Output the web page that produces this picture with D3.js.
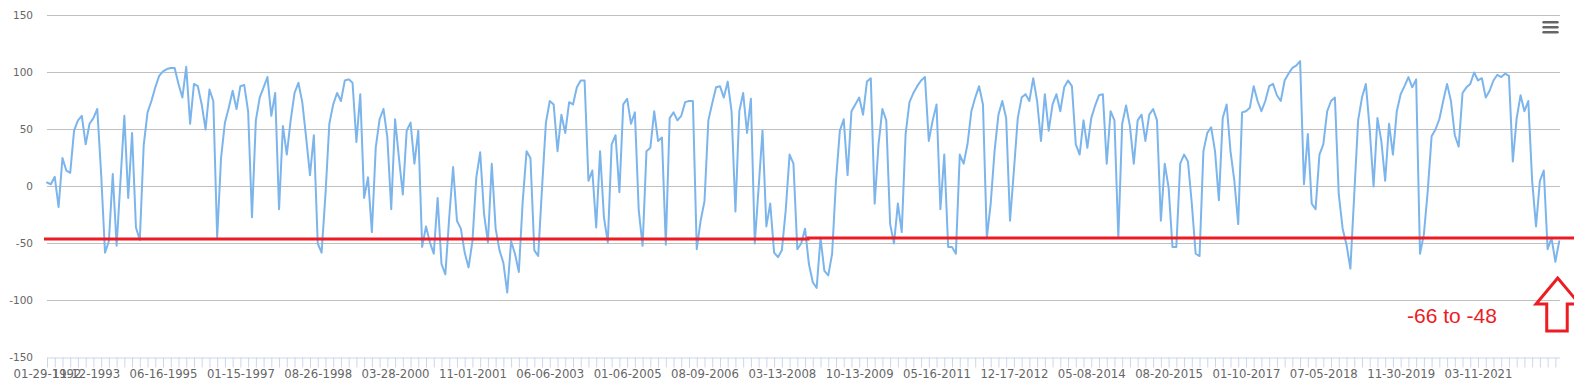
<!DOCTYPE html>
<html>
<head>
<meta charset="utf-8">
<script src="https://cdn.jsdelivr.net/npm/d3@7"></script>
<style>
  html, body { margin: 0; padding: 0; background: #fff; }
  svg { display: block; }
</style>
</head>
<body>
<svg id="chart" width="1574" height="380"></svg>
<script>
// ---- data ----
const values = [
  3.5, 2, 8.5, -18, 25, 14, 12, 49, 58, 62,
  37, 55, 60, 68, 11, -58, -48, 11, -52, 5,
  62, -10, 47, -36, -47, 36, 65, 75, 87, 97,
  101, 103, 104, 104, 90, 78, 105, 55, 90, 88,
  72, 50, 85, 75, -45, 25, 56, 69, 84, 68,
  88, 89, 66, -27, 58, 78, 87, 96, 62, 82,
  -20, 53, 28, 58, 82, 91, 74, 43, 10, 45,
  -50, -58, -7, 55, 72, 82, 75, 93, 94, 91,
  39, 81, -10, 8, -40, 34, 59, 68, 43, -20,
  59, 25, -7, 49, 56, 20, 49, -53, -35, -49,
  -59, -10, -68, -77, -27, 17, -30, -37, -58, -71,
  -48, 8, 30, -24, -49, 20, -37, -56, -67, -93,
  -48, -59, -75, -13, 31, 25, -56, -61, -1, 56,
  75, 72, 31, 63, 47, 74, 72, 87, 93, 93,
  5, 14, -36, 31, -27, -49, 37, 45, -5, 72,
  77, 55, 65, -21, -52, 31, 34, 66, 40, 43,
  -51, 60, 65, 58, 62, 74, 75, 75, -55, -30,
  -13, 58, 73, 87, 88, 78, 92, 66, -22, 66,
  82, 47, 77, -50, -1, 49, -35, -15, -58, -62,
  -56, -21, 28, 20, -55, -50, -37, -68, -84, -89,
  -45, -74, -78, -59, 5, 49, 59, 10, 66, 72,
  78, 63, 92, 95, -15, 37, 68, 58, -33, -50,
  -15, -40, 46, 74, 82, 88, 93, 96, 40, 58,
  72, -20, 28, -53, -53, -59, 28, 20, 37, 66,
  78, 88, 72, -45, -15, 31, 63, 75, 60, -30,
  14, 60, 78, 81, 75, 95, 75, 40, 81, 49,
  72, 81, 66, 87, 93, 88, 37, 28, 58, 34,
  60, 71, 80, 81, 20, 66, 58, -45, 55, 71,
  53, 20, 58, 63, 40, 63, 68, 58, -30, 20,
  -1, -53, -53, 20, 28, 22, -15, -59, -61, 31,
  47, 52, 31, -12, 60, 72, 31, 5, -33, 65,
  66, 69, 88, 75, 66, 75, 88, 90, 80, 75,
  93, 99, 104, 106, 110, 2, 46, -15, -20, 28,
  37, 66, 75, 78, -7, -37, -51, -72, -7, 58,
  78, 90, 50, 0, 60, 40, 5, 55, 28, 66,
  81, 88, 96, 87, 94, -59, -42, -4, 44, 50,
  59, 75, 90, 75, 45, 35, 82, 87, 90, 100,
  93, 95, 78, 84, 93, 98, 96, 99, 97, 22,
  60, 80, 66, 75, 5, -35, 5, 14, -55, -45,
  -66, -48
];
const tickLabels = [
  "01-29-1992", "11-12-1993", "06-16-1995", "01-15-1997", "08-26-1998",
  "03-28-2000", "11-01-2001", "06-06-2003", "01-06-2005", "08-09-2006",
  "03-13-2008", "10-13-2009", "05-16-2011", "12-17-2012", "05-08-2014",
  "08-20-2015", "01-10-2017", "07-05-2018", "11-30-2019", "03-11-2021"
];
const tickLabelIndex = [0, 10, 30, 50, 70, 90, 110, 130, 150, 170,
  190, 210, 230, 250, 270, 290, 310, 330, 350, 370];
const yTicks = [150, 100, 50, 0, -50, -100, -150];
const redLevels = [-46, -45.2];   // reference line (left part, right part)
const redBreakIndex = 196.8;
const noteText = "-66 to -48";

// ---- layout ----
const svg = d3.select("#chart");
const plotLeft = 47, plotRight = 1560, plotTop = 15.5, plotBottom = 357.5;
const step = 3.8676;
const x = d3.scaleLinear().domain([0, values.length - 1])
  .range([plotLeft, plotLeft + (values.length - 1) * step]);
const y = d3.scaleLinear().domain([-150, 150]).range([plotBottom, plotTop]);

// grid lines
svg.append("g").selectAll("line")
  .data(yTicks.filter(v => v !== -150))
  .join("line")
  .attr("x1", plotLeft).attr("x2", plotRight)
  .attr("y1", d => y(d)).attr("y2", d => y(d))
  .attr("stroke", "#c0c0c0").attr("stroke-width", 1);

// y axis labels
const yAxis = d3.axisLeft(y).tickValues(yTicks).tickSize(0).tickPadding(0)
  .tickFormat(d => String(d));
const gy = svg.append("g").attr("transform", "translate(33,0)").call(yAxis);
gy.select(".domain").remove();
gy.selectAll("text").attr("font-family", "DejaVu Sans, Verdana, sans-serif")
  .attr("font-size", "10.5px").attr("fill", "#666666");

// x axis
const labelMap = new Map(tickLabelIndex.map((k, i) => [k, tickLabels[i]]));
const tickPositions = d3.range(0, values.length, 2);
const xAxis = d3.axisBottom(x).tickValues(tickPositions).tickSize(10).tickPadding(2)
  .tickFormat(d => labelMap.get(d) || "");
const gx = svg.append("g").attr("transform", `translate(0,${plotBottom})`).call(xAxis);
gx.select(".domain").attr("d", `M${plotLeft},0.5H${plotRight}`).attr("stroke", "#ccd6eb");
gx.selectAll(".tick line").attr("stroke", "#ccd6eb");
gx.selectAll("text").attr("font-family", "DejaVu Sans, Verdana, sans-serif")
  .attr("font-size", "11.7px").attr("fill", "#666666");

// series line
const line = d3.line().x((d, i) => x(i)).y(d => y(d)).curve(d3.curveLinear);
svg.append("path").datum(values)
  .attr("d", line)
  .attr("fill", "none").attr("stroke", "#7cb5ec").attr("stroke-width", 2)
  .attr("stroke-linejoin", "round").attr("stroke-linecap", "round");

// red reference line (hand annotation, extends past plot)
const redPath = d3.path();
redPath.moveTo(44, y(redLevels[0]));
redPath.lineTo(x(redBreakIndex), y(redLevels[0]));
redPath.lineTo(x(redBreakIndex), y(redLevels[1]));
redPath.lineTo(1574, y(redLevels[1]));
svg.append("path").attr("d", redPath.toString())
  .attr("fill", "none").attr("stroke", "#ed1c24").attr("stroke-width", 3);

// note text
svg.append("text").attr("x", 1407).attr("y", 322.5)
  .attr("font-family", "Liberation Sans, Arial, sans-serif")
  .attr("font-size", "21px").attr("fill", "#ed1c24")
  .text(noteText);

// arrow (outline)
const ax = x(values.length - 1) - 1.5;
const arrow = d3.path();
arrow.moveTo(ax, 278);
arrow.lineTo(ax - 21.7, 304);
arrow.lineTo(ax - 11, 304);
arrow.lineTo(ax - 11, 331);
arrow.lineTo(ax + 9.5, 331);
arrow.lineTo(ax + 9.5, 304);
arrow.lineTo(ax + 21.7, 304);
arrow.closePath();
svg.append("path").attr("d", arrow.toString())
  .attr("fill", "none").attr("stroke", "#ed1c24").attr("stroke-width", 3)
  .attr("stroke-linejoin", "miter");

// context menu icon
const menu = svg.append("g").attr("stroke", "#666666").attr("stroke-width", 2.4)
  .attr("stroke-linecap", "round");
[22.3, 27.3, 32.3].forEach(yy => {
  menu.append("line").attr("x1", 1543.5).attr("x2", 1557.5).attr("y1", yy).attr("y2", yy);
});
</script>
</body>
</html>
